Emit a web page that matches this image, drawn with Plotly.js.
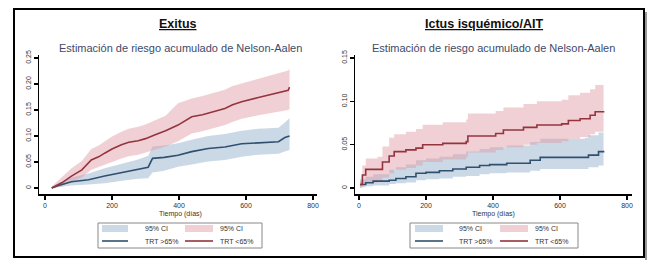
<!DOCTYPE html>
<html><head><meta charset="utf-8">
<script src="https://cdn.plot.ly/plotly-3.0.1.min.js"></script>
<style>html,body{margin:0;padding:0;background:#fff}#chart{width:647px;height:260px}</style>
</head><body><div id="chart"></div>
<script>
// ---- Data: Exitus (left panel) ----
const exBlueT   = [20, 40, 79, 130, 178, 230, 278, 308, 321, 356, 397, 438, 487, 537, 587, 637, 697, 716, 730];
const exBlueV   = [0, 0.005, 0.012, 0.016, 0.023, 0.030, 0.036, 0.040, 0.057, 0.059, 0.063, 0.070, 0.076, 0.079, 0.085, 0.087, 0.089, 0.097, 0.100];
const exBlueLo  = [0, 0.002, 0.005, 0.007, 0.009, 0.014, 0.018, 0.019, 0.030, 0.033, 0.041, 0.045, 0.051, 0.054, 0.060, 0.064, 0.066, 0.070, 0.073];
const exBlueHi  = [0.002, 0.009, 0.020, 0.028, 0.038, 0.047, 0.055, 0.062, 0.080, 0.082, 0.086, 0.093, 0.100, 0.104, 0.110, 0.114, 0.116, 0.126, 0.134];

const exRedT  = [20, 50, 79, 110, 138, 160, 178, 200, 228, 250, 278, 300, 327, 360, 397, 438, 470, 487, 537, 560, 587, 637, 687, 726, 730];
const exRedV  = [0, 0.010, 0.023, 0.035, 0.054, 0.060, 0.067, 0.075, 0.083, 0.088, 0.091, 0.095, 0.102, 0.110, 0.121, 0.137, 0.141, 0.144, 0.153, 0.160, 0.166, 0.174, 0.182, 0.188, 0.194];
const exRedLo = [0, 0.003, 0.012, 0.020, 0.035, 0.040, 0.044, 0.050, 0.057, 0.061, 0.064, 0.068, 0.073, 0.080, 0.090, 0.105, 0.109, 0.112, 0.121, 0.127, 0.133, 0.140, 0.146, 0.150, 0.152];
const exRedHi = [0.003, 0.020, 0.038, 0.052, 0.075, 0.082, 0.090, 0.099, 0.108, 0.114, 0.118, 0.122, 0.130, 0.139, 0.163, 0.172, 0.177, 0.180, 0.189, 0.196, 0.201, 0.210, 0.219, 0.226, 0.230];

// ---- Data: Ictus isquémico/AIT (right panel) ----
const icBlueT  = [3, 20, 42, 90, 110, 140, 170, 200, 240, 280, 320, 360, 390, 441, 511, 541, 675, 685, 715, 730];
const icBlueV  = [0.004, 0.006, 0.008, 0.009, 0.011, 0.013, 0.017, 0.018, 0.020, 0.022, 0.024, 0.026, 0.027, 0.0285, 0.032, 0.0354, 0.0354, 0.038, 0.042, 0.043];
const icBlueLo = [0.001, 0.002, 0.003, 0.0045, 0.0055, 0.0065, 0.009, 0.010, 0.011, 0.013, 0.014, 0.016, 0.017, 0.018, 0.020, 0.022, 0.022, 0.024, 0.026, 0.027];
const icBlueHi = [0.010, 0.013, 0.016, 0.021, 0.024, 0.027, 0.032, 0.034, 0.036, 0.039, 0.042, 0.045, 0.047, 0.049, 0.053, 0.057, 0.058, 0.061, 0.064, 0.065];

const icRedT  = [3, 10, 20, 55, 70, 90, 105, 140, 170, 190, 250, 320, 325, 408, 431, 491, 531, 605, 625, 660, 690, 705, 730];
const icRedV  = [0.004, 0.015, 0.0215, 0.0215, 0.030, 0.037, 0.042, 0.044, 0.046, 0.050, 0.0515, 0.0535, 0.060, 0.063, 0.067, 0.070, 0.0727, 0.074, 0.078, 0.080, 0.084, 0.088, 0.089];
const icRedLo = [0, 0.004, 0.006, 0.007, 0.012, 0.017, 0.021, 0.023, 0.026, 0.030, 0.033, 0.036, 0.041, 0.044, 0.047, 0.050, 0.052, 0.054, 0.057, 0.059, 0.062, 0.065, 0.066];
const icRedHi = [0.008, 0.026, 0.034, 0.036, 0.048, 0.058, 0.062, 0.065, 0.068, 0.073, 0.076, 0.079, 0.086, 0.089, 0.093, 0.097, 0.100, 0.102, 0.107, 0.110, 0.114, 0.119, 0.121];

// ---- Labels ----
const panelTitles = ["Exitus", "Ictus isquémico/AIT"];
const subTitle = "Estimación de riesgo acumulado de Nelson-Aalen";
const xTitle = "Tiempo (días)";
const xTickVals = [0, 200, 400, 600, 800];
const yTickValsL = [0, 0.05, 0.10, 0.15, 0.20, 0.25];
const yTickTextL = ["0", "0.05", "0.10", "0.15", "0.20", "0.25"];
const yTickValsR = [0, 0.05, 0.10, 0.15];
const yTickTextR = ["0", "0.05", "0.10", "0.15"];
const legendLabels = ["95% CI", "95% CI", "TRT >65%", "TRT <65%"];

// ---- Styles ----
const W = 647, H = 260;
const px = x => x / W, py = y => 1 - y / H;
const BLUE = "#30506f", RED = "#95343f";
const BLUE_BAND = "rgba(160,185,212,0.55)", RED_BAND = "rgba(222,150,160,0.45)";
const FONT = "Liberation Sans, Arial, sans-serif";
const TXT = "#333333";

function band(t, lo, hi, color, xa, ya, shape) {
  return [
    {x: t, y: lo, xaxis: xa, yaxis: ya, mode: "lines", line: {width: 0, shape: shape}, hoverinfo: "skip", showlegend: false},
    {x: t, y: hi, xaxis: xa, yaxis: ya, mode: "lines", line: {width: 0, shape: shape}, fill: "tonexty", fillcolor: color, hoverinfo: "skip", showlegend: false}
  ];
}
function line(t, v, color, xa, ya, shape) {
  return {x: t, y: v, xaxis: xa, yaxis: ya, mode: "lines", line: {color: color, width: 1.6, shape: shape}, showlegend: false};
}

const data = [
  ...band(exBlueT, exBlueLo, exBlueHi, BLUE_BAND, "x", "y", "linear"),
  ...band(exRedT, exRedLo, exRedHi, RED_BAND, "x", "y", "linear"),
  line(exBlueT, exBlueV, BLUE, "x", "y", "linear"),
  line(exRedT, exRedV, RED, "x", "y", "linear"),
  ...band(icBlueT, icBlueLo, icBlueHi, BLUE_BAND, "x2", "y2", "hv"),
  ...band(icRedT, icRedLo, icRedHi, RED_BAND, "x2", "y2", "hv"),
  line(icBlueT, icBlueV, BLUE, "x2", "y2", "hv"),
  line(icRedT, icRedV, RED, "x2", "y2", "hv")
];

const axisCommon = {
  showline: true, linecolor: "#000", linewidth: 1.5, ticks: "outside", ticklen: 4, tickwidth: 1.5, tickcolor: "#000",
  showgrid: false, zeroline: false, tickfont: {size: 7, color: TXT, family: FONT}, automargin: false
};
const xCommon = Object.assign({}, axisCommon, {tickvals: xTickVals, ticktext: xTickVals.map(String)});

const shapes = [], annotations = [];
// outer frame
shapes.push({type: "rect", xref: "paper", yref: "paper", x0: px(645), x1: px(647), y0: py(260), y1: py(12), fillcolor: "#999", line: {width: 0}});
shapes.push({type: "rect", xref: "paper", yref: "paper", x0: px(14), x1: px(644), y0: py(257), y1: py(9), line: {color: "#000", width: 2}});

function legend(bx0, bx1, c1sw, c1tx, c2sw, c2tx) {
  shapes.push({type: "rect", xref: "paper", yref: "paper", x0: px(bx0), x1: px(bx1), y0: py(248), y1: py(223), line: {color: "#888", width: 1}, fillcolor: "#fff"});
  shapes.push({type: "rect", xref: "paper", yref: "paper", x0: px(c1sw[0]), x1: px(c1sw[1]), y0: py(232), y1: py(225), line: {width: 0}, fillcolor: BLUE_BAND});
  shapes.push({type: "rect", xref: "paper", yref: "paper", x0: px(c2sw[0]), x1: px(c2sw[1]), y0: py(232), y1: py(225), line: {width: 0}, fillcolor: RED_BAND});
  shapes.push({type: "line", xref: "paper", yref: "paper", x0: px(c1sw[0]), x1: px(c1sw[1]), y0: py(241), y1: py(241), line: {color: BLUE, width: 1.6}});
  shapes.push({type: "line", xref: "paper", yref: "paper", x0: px(c2sw[0]), x1: px(c2sw[1]), y0: py(241), y1: py(241), line: {color: RED, width: 1.6}});
  const pos = [[c1tx, 228.5], [c2tx, 228.5], [c1tx, 241], [c2tx, 241]];
  legendLabels.forEach((t, i) => annotations.push({
    text: t, xref: "paper", yref: "paper", x: px(pos[i][0]), y: py(pos[i][1]), xanchor: "left", yanchor: "middle",
    showarrow: false, font: {size: 7, color: TXT, family: FONT}
  }));
}
legend(98, 262, [102, 128], 143, [185, 213], 218);
legend(410, 578, [415, 443], 457, [500, 528], 533);

function titles(cx, sx, axc, title) {
  annotations.push({text: "<b><u>" + title + "</u></b>", xref: "paper", yref: "paper", x: px(cx), y: py(24), xanchor: "center", yanchor: "middle", showarrow: false, font: {size: 12.5, color: "#111", family: FONT}});
  annotations.push({text: subTitle, xref: "paper", yref: "paper", x: px(sx), y: py(48), xanchor: "center", yanchor: "middle", showarrow: false, font: {size: 11, color: "#3e4a68", family: FONT}});
  annotations.push({text: xTitle, xref: "paper", yref: "paper", x: px(axc), y: py(214), xanchor: "center", yanchor: "middle", showarrow: false, font: {size: 7, color: TXT, family: FONT}});
}
titles(178, 180, 180, panelTitles[0]);
titles(484, 493, 493, panelTitles[1]);

const layout = {
  width: W, height: H, margin: {l: 0, r: 0, t: 0, b: 0},
  paper_bgcolor: "#fff", plot_bgcolor: "#fff", showlegend: false,
  xaxis: Object.assign({}, xCommon, {domain: [px(39), px(317)], range: [-18, 812], anchor: "y"}),
  yaxis: Object.assign({}, axisCommon, {domain: [py(194), py(55)], range: [-0.0115, 0.2558], tickvals: yTickValsL, ticktext: yTickTextL, tickangle: -90, anchor: "x"}),
  xaxis2: Object.assign({}, xCommon, {domain: [px(355), px(632)], range: [-12, 815], anchor: "y2"}),
  yaxis2: Object.assign({}, axisCommon, {domain: [py(194), py(55)], range: [-0.0069, 0.1535], tickvals: yTickValsR, ticktext: yTickTextR, tickangle: -90, anchor: "x2"}),
  shapes: shapes, annotations: annotations
};
Plotly.newPlot("chart", data, layout, {staticPlot: true, displayModeBar: false});
</script></body></html>
